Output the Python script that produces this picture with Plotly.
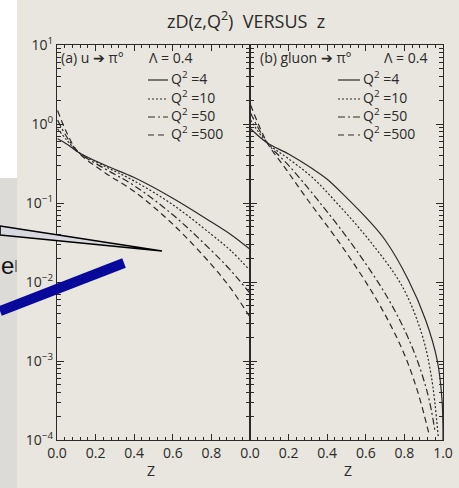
import plotly.graph_objects as go
from plotly.subplots import make_subplots

W, H = 459, 488

# ---------------- data ----------------
# (a) u -> pi0, Lambda = 0.4
z_u = [0.003, 0.05, 0.11, 0.25, 0.4, 0.6, 0.8, 0.9, 1.0]
u_q4 = [0.65, 0.56, 0.44, 0.30, 0.21, 0.115, 0.0575, 0.040, 0.026]
u_q10 = [0.87, 0.63, 0.44, 0.29, 0.19, 0.095, 0.040, 0.025, 0.014]
u_q50 = [1.12, 0.69, 0.44, 0.27, 0.166, 0.071, 0.025, 0.014, 0.0072]
u_q500 = [1.48, 0.78, 0.44, 0.24, 0.14, 0.054, 0.0166, 0.0083, 0.0036]

# (b) gluon -> pi0, Lambda = 0.4
g_z_q4 = [0.003, 0.09, 0.2, 0.32, 0.4, 0.5, 0.61, 0.7, 0.82, 0.91, 0.97, 0.995, 1.0]
g_q4 = [0.87, 0.575, 0.417, 0.275, 0.20, 0.117, 0.062, 0.034, 0.0107, 0.0033, 0.00102, 0.00032, 0.0001]
g_z_q10 = [0.003, 0.09, 0.2, 0.32, 0.45, 0.63, 0.79, 0.89, 0.94, 0.975]
g_q10 = [1.12, 0.575, 0.363, 0.214, 0.10, 0.031, 0.0087, 0.0022, 0.00063, 0.000112]
g_z_q50 = [0.003, 0.09, 0.2, 0.35, 0.54, 0.72, 0.84, 0.92, 0.96]
g_q50 = [1.38, 0.575, 0.30, 0.11, 0.0275, 0.0059, 0.0015, 0.00039, 0.000123]
g_z_q500 = [0.003, 0.09, 0.18, 0.29, 0.48, 0.66, 0.79, 0.87, 0.93]
g_q500 = [1.74, 0.575, 0.282, 0.1175, 0.0275, 0.00575, 0.00138, 0.0004, 0.000112]

q2_labels = ["Q<sup>2</sup> =4", "Q<sup>2</sup> =10", "Q<sup>2</sup> =50", "Q<sup>2</sup> =500"]
dashes = ["solid", "dot", "dashdot", "dash"]

y_tickvals = [1e-4, 1e-3, 1e-2, 1e-1, 1, 10]
y_ticktext = ["10<sup>−4</sup>", "10<sup>−3</sup>", "10<sup>−2</sup>",
              "10<sup>−1</sup>", "10<sup>0</sup>", "10<sup>1</sup>"]
y_minor = [m * 10 ** e for e in range(-4, 1) for m in range(2, 10)]
x_left_ticks = [0.0, 0.2, 0.4, 0.6, 0.8]
x_right_ticks = [0.0, 0.2, 0.4, 0.6, 0.8, 1.0]
x_left_text = ["0.0", "0.2", "0.4", "0.6", "0.8"]
x_right_text = ["0.0", "0.2", "0.4", "0.6", "0.8", "1.0"]

# ---------------- styling ----------------
PAPER = "#e9e6df"
INK = "#2a2a2a"
FONT = "Open Sans"
dash_styles = {"solid": "solid", "dot": "2px,2px", "dashdot": "7px,3px,2px,3px", "dash": "6px,4px"}


def px(x):
    return x / W


def py(y):
    return 1 - y / H


fig = make_subplots(rows=1, cols=2, shared_yaxes=True, horizontal_spacing=0)

left = [(z_u, u_q4), (z_u, u_q10), (z_u, u_q50), (z_u, u_q500)]
right = [(g_z_q4, g_q4), (g_z_q10, g_q10), (g_z_q50, g_q50), (g_z_q500, g_q500)]
for i, (zz, vv) in enumerate(left):
    fig.add_trace(go.Scatter(x=zz, y=vv, mode="lines", line_shape="spline",
                             line=dict(color=INK, width=1.2, dash=dash_styles[dashes[i]]),
                             showlegend=False, hoverinfo="skip"), row=1, col=1)
for i, (zz, vv) in enumerate(right):
    fig.add_trace(go.Scatter(x=zz, y=vv, mode="lines", line_shape="spline",
                             line=dict(color=INK, width=1.2, dash=dash_styles[dashes[i]]),
                             showlegend=False, hoverinfo="skip"), row=1, col=2)

x_minor_vals = [round(0.04 * k, 2) for k in range(26)]

common_x = dict(range=[0, 1], showgrid=False, zeroline=False, showline=True, automargin=False,
                linecolor=INK, linewidth=1.3, mirror="allticks", ticks="inside",
                ticklen=6, tickcolor=INK, tickwidth=1,
                minor=dict(ticks="inside", ticklen=3, tickcolor=INK, tickvals=x_minor_vals),
                tickfont=dict(family=FONT, size=14, color=INK), tickmode="array")
fig.update_xaxes(domain=[px(57), px(250)], tickvals=x_left_ticks, ticktext=x_left_text,
                 row=1, col=1, **common_x)
fig.update_xaxes(domain=[px(250), px(443)], tickvals=x_right_ticks, ticktext=x_right_text,
                 row=1, col=2, **common_x)

common_y = dict(type="log", range=[-4, 1], showgrid=False, zeroline=False, showline=True,
                automargin=False,
                linecolor=INK, linewidth=1.3, mirror="allticks", ticks="inside",
                ticklen=7, tickcolor=INK, tickwidth=1, tickmode="array",
                tickvals=y_tickvals, ticktext=y_ticktext,
                minor=dict(ticks="inside", ticklen=4, tickcolor=INK, tickvals=y_minor),
                tickfont=dict(family=FONT, size=14, color=INK), domain=[py(440), py(45)])
fig.update_yaxes(row=1, col=1, **common_y)
fig.update_yaxes(row=1, col=2, showticklabels=False, **common_y)

ann = []
shapes = []


def text(t, x, y, size=14, xanchor="center", family=FONT, color=INK):
    ann.append(dict(text=t, x=px(x), y=py(y), xref="paper", yref="paper", showarrow=False,
                    xanchor=xanchor, yanchor="middle", font=dict(family=family, size=size, color=color)))


# title
text("zD(z,Q<sup>2</sup>)  VERSUS  z", 246, 20, size=18)
# axis titles
text("Z", 151, 470)
text("Z", 348, 470)
# legends
panel_legend = [
    ("(a) u ➔ π°", 59, 147, 148, 168, 169),
    ("(b) gluon ➔ π°", 258, 382, 338, 360, 361),
]
rows_y = [78, 97, 115, 133]
for head, hx, lx, sx0, sx1, tx in panel_legend:
    text(head, hx, 58, xanchor="left")
    text("Λ = 0.4", lx, 58, xanchor="left")
    for i, ry in enumerate(rows_y):
        shapes.append(dict(type="line", xref="paper", yref="paper", x0=px(sx0), x1=px(sx1),
                           y0=py(ry + 2), y1=py(ry + 2),
                           line=dict(color=INK, width=1.2, dash=dash_styles[dashes[i]])))
        text(q2_labels[i], tx, ry, xanchor="left")

# overlays from the slide the scan was pasted on
shapes.append(dict(type="rect", xref="paper", yref="paper", x0=px(0), x1=px(17), y0=py(0), y1=py(178),
                   fillcolor="#ffffff", line=dict(width=0), layer="above"))
shapes.append(dict(type="rect", xref="paper", yref="paper", x0=px(0), x1=px(17), y0=py(178), y1=py(488),
                   fillcolor="#dddbd7", line=dict(width=0), layer="above"))
shapes.append(dict(type="path", xref="paper", yref="paper",
                   path=f"M {px(0)},{py(226)} L {px(162)},{py(251)} L {px(0)},{py(235)} Z",
                   fillcolor="#d8d8e0", line=dict(color="#000000", width=1.6), layer="above"))
shapes.append(dict(type="line", xref="paper", yref="paper", x0=px(0), y0=py(311), x1=px(124), y1=py(263),
                   line=dict(color="#08089a", width=10), layer="above"))
text("e", -1, 265, size=24, xanchor="left", family="Liberation Sans", color="#111111")
shapes.append(dict(type="line", xref="paper", yref="paper", x0=px(16), x1=px(16), y0=py(260), y1=py(272),
                   line=dict(color="#333333", width=1), layer="above"))

fig.update_layout(width=W, height=H, margin=dict(l=0, r=0, t=0, b=0, autoexpand=False),
                  paper_bgcolor=PAPER, plot_bgcolor=PAPER, annotations=ann, shapes=shapes,
                  showlegend=False)
fig.write_html("out.html", config={"displayModeBar": False},
               post_script="document.body.style.margin='0';document.body.style.overflow='hidden';")
